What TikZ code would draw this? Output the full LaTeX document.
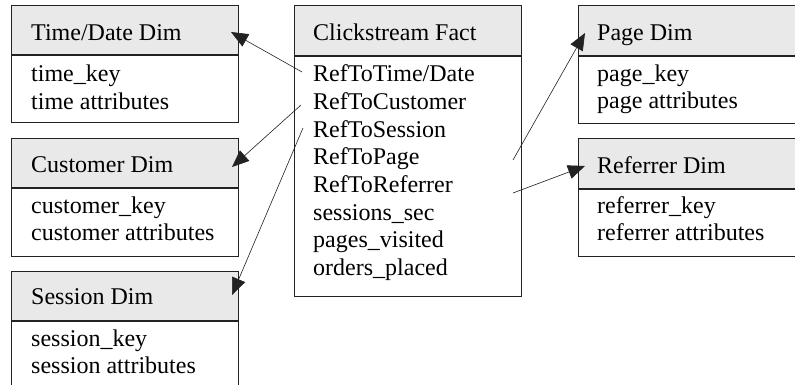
\documentclass[tikz,border=0pt]{standalone}
\usepackage{fontspec}
\setmainfont{Liberation Serif}
\usetikzlibrary{arrows.meta}
\definecolor{hdrgray}{HTML}{E9E9E9}
\definecolor{edge}{HTML}{222222}
\tikzset{
  hdrbox/.style={draw=edge, line width=0.8pt, fill=hdrgray, rectangle, inner sep=0pt, anchor=north west},
  bodybox/.style={draw=edge, line width=0.8pt, fill=white, rectangle, inner sep=0pt, anchor=north west},
  txt/.style={inner sep=0pt, anchor=base west, font=\fontsize{24pt}{27.5pt}\selectfont},
  link/.style={draw=edge, line width=0.6pt, -{Triangle[length=17pt,width=14pt]}}
}
\begin{document}
\begin{tikzpicture}[x=1pt,y=-1pt]
\clip (0,0) rectangle (795,385);
\fill[white] (0,0) rectangle (795,385);

% Time/Date Dim
\node[hdrbox, minimum width=227pt, minimum height=49pt] (timeH) at (11,5) {};
\node[bodybox, minimum width=227pt, minimum height=67pt] (timeB) at (timeH.south west) {};
\node[txt] (timeT) at (31,41) {Time/Date Dim};
\node[txt] (timeA1) at (31,82) {time\_key};
\node[txt] (timeA2) at (31,109.5) {time attributes};

% Customer Dim
\node[hdrbox, minimum width=227pt, minimum height=49pt] (custH) at (11,138) {};
\node[bodybox, minimum width=227pt, minimum height=68pt] (custB) at (custH.south west) {};
\node[txt] (custT) at (31,172) {Customer Dim};
\node[txt] (custA1) at (31,213) {customer\_key};
\node[txt] (custA2) at (31,240.5) {customer attributes};

% Session Dim
\node[hdrbox, minimum width=227pt, minimum height=49pt] (sessH) at (11,271) {};
\node[bodybox, minimum width=227pt, minimum height=100pt] (sessB) at (sessH.south west) {};
\node[txt] (sessT) at (31,304) {Session Dim};
\node[txt] (sessA1) at (31,346) {session\_key};
\node[txt] (sessA2) at (31,373.5) {session attributes};

% Clickstream Fact
\node[hdrbox, minimum width=227pt, minimum height=50pt] (factH) at (294,5) {};
\node[bodybox, minimum width=227pt, minimum height=240pt] (factB) at (factH.south west) {};
\node[txt] (factT) at (313,41) {Clickstream Fact};
\node[txt] (fa1) at (313,82) {RefToTime/Date};
\node[txt] (fa2) at (313,109.6) {RefToCustomer};
\node[txt] (fa3) at (313,137.2) {RefToSession};
\node[txt] (fa4) at (313,164.8) {RefToPage};
\node[txt] (fa5) at (313,192.4) {RefToReferrer};
\node[txt] (fa6) at (313,220) {sessions\_sec};
\node[txt] (fa7) at (313,247.6) {pages\_visited};
\node[txt] (fa8) at (313,275.2) {orders\_placed};

% Page Dim
\node[hdrbox, minimum width=232pt, minimum height=50pt] (pageH) at (578,5) {};
\node[bodybox, minimum width=232pt, minimum height=67pt] (pageB) at (pageH.south west) {};
\node[txt] (pageT) at (597,41) {Page Dim};
\node[txt] (pageA1) at (597,82) {page\_key};
\node[txt] (pageA2) at (597,108.5) {page attributes};

% Referrer Dim
\node[hdrbox, minimum width=232pt, minimum height=50pt] (refH) at (578,138) {};
\node[bodybox, minimum width=232pt, minimum height=67pt] (refB) at (refH.south west) {};
\node[txt] (refT) at (597,173) {Referrer Dim};
\node[txt] (refA1) at (597,213) {referrer\_key};
\node[txt] (refA2) at (597,240.5) {referrer attributes};

% connector end points
\coordinate (sTime) at (302,72);
\coordinate (sCust) at (301,105);
\coordinate (sSess) at (303,128);
\coordinate (sPage) at (513,160);
\coordinate (sRef)  at (513,193);
\coordinate (eTime) at (231,32);
\coordinate (eCust) at (232,167);
\coordinate (eSess) at (232,295);
\coordinate (ePage) at (585,33);
\coordinate (eRef)  at (585,166);

\draw[link] (sTime) -- (eTime);
\draw[link] (sCust) -- (eCust);
\draw[link] (sSess) -- (eSess);
\draw[link] (sPage) -- (ePage);
\draw[link] (sRef) -- (eRef);
\end{tikzpicture}
\end{document}
